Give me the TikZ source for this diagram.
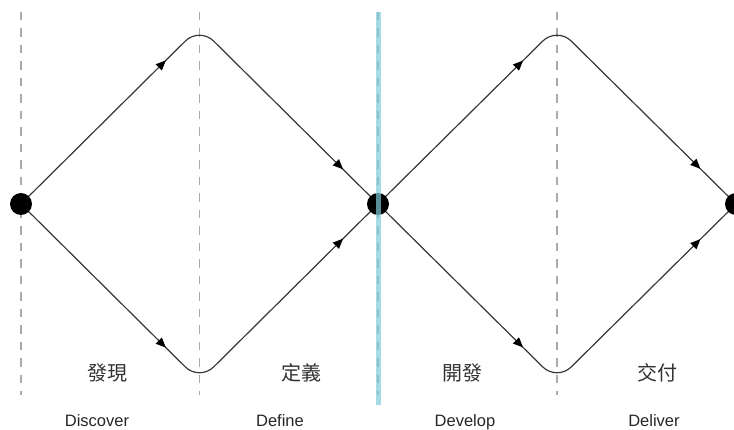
\documentclass[tikz,border=0pt]{standalone}
\usepackage{fontspec}
\setmainfont{Liberation Sans}
\newfontfamily\cjkfont{Noto Sans CJK TC}
\usetikzlibrary{arrows.meta, decorations.markings, backgrounds}
\definecolor{linegray}{RGB}{55,55,55}
\definecolor{guidegray}{RGB}{170,170,170}
\definecolor{barblue}{RGB}{125,205,220}
\definecolor{textgray}{RGB}{50,50,50}

\begin{document}
\begin{tikzpicture}[x=1pt, y=-1pt,
    dot/.style={circle, fill=black, inner sep=0pt, minimum size=22pt},
    guide/.style={guidegray, line width=1.1pt, dash pattern=on 8.5pt off 8pt},
    flow/.style={linegray, line width=1.2pt, rounded corners=20pt,
        postaction={decorate},
        decoration={markings,
            mark=at position 204pt with {\arrow[black]{Triangle[length=10pt,width=8.5pt]}},
            mark=at position 445pt with {\arrow[black]{Triangle[length=10pt,width=8.5pt]}}}},
    phase/.style={font=\cjkfont\fontsize{20}{24}\selectfont, text=textgray, inner sep=0pt},
    label/.style={font=\fontsize{16.5}{19}\selectfont, text=black!85, anchor=base, inner sep=0pt}
]
\useasboundingbox (0,0) rectangle (734,430);

% diamond end points
\node[dot] (start) at (21,204) {};
\node[dot] (mid) at (378,204) {};
\node[dot] (finish) at (736,204) {};
\coordinate (top1) at (199.5,27);
\coordinate (bot1) at (199.5,381);
\coordinate (top2) at (557,27);
\coordinate (bot2) at (557,381);

\begin{scope}[on background layer]
\foreach \x in {21,199.5,378,557}
    \draw[guide] (\x,12) -- (\x,395);
\draw[flow] (start.center) -- (top1) -- (mid.center);
\draw[flow] (start.center) -- (bot1) -- (mid.center);
\draw[flow] (mid.center) -- (top2) -- (finish.center);
\draw[flow] (mid.center) -- (bot2) -- (finish.center);
\end{scope}

% divider
\draw[barblue, line width=5pt, opacity=0.7] (378,12) -- (378,405);

% phase names
\node[phase] (discoverzh) at (107,373) {發現};
\node[phase] (definezh) at (301,373) {定義};
\node[phase] (developzh) at (462,373) {開發};
\node[phase] (deliverzh) at (657,373) {交付};
\node[label] (discover) at (97,427) {Discover};
\node[label] (define) at (280,427) {Define};
\node[label] (develop) at (465,427) {Develop};
\node[label] (deliver) at (654,427) {Deliver};
\end{tikzpicture}
\end{document}
